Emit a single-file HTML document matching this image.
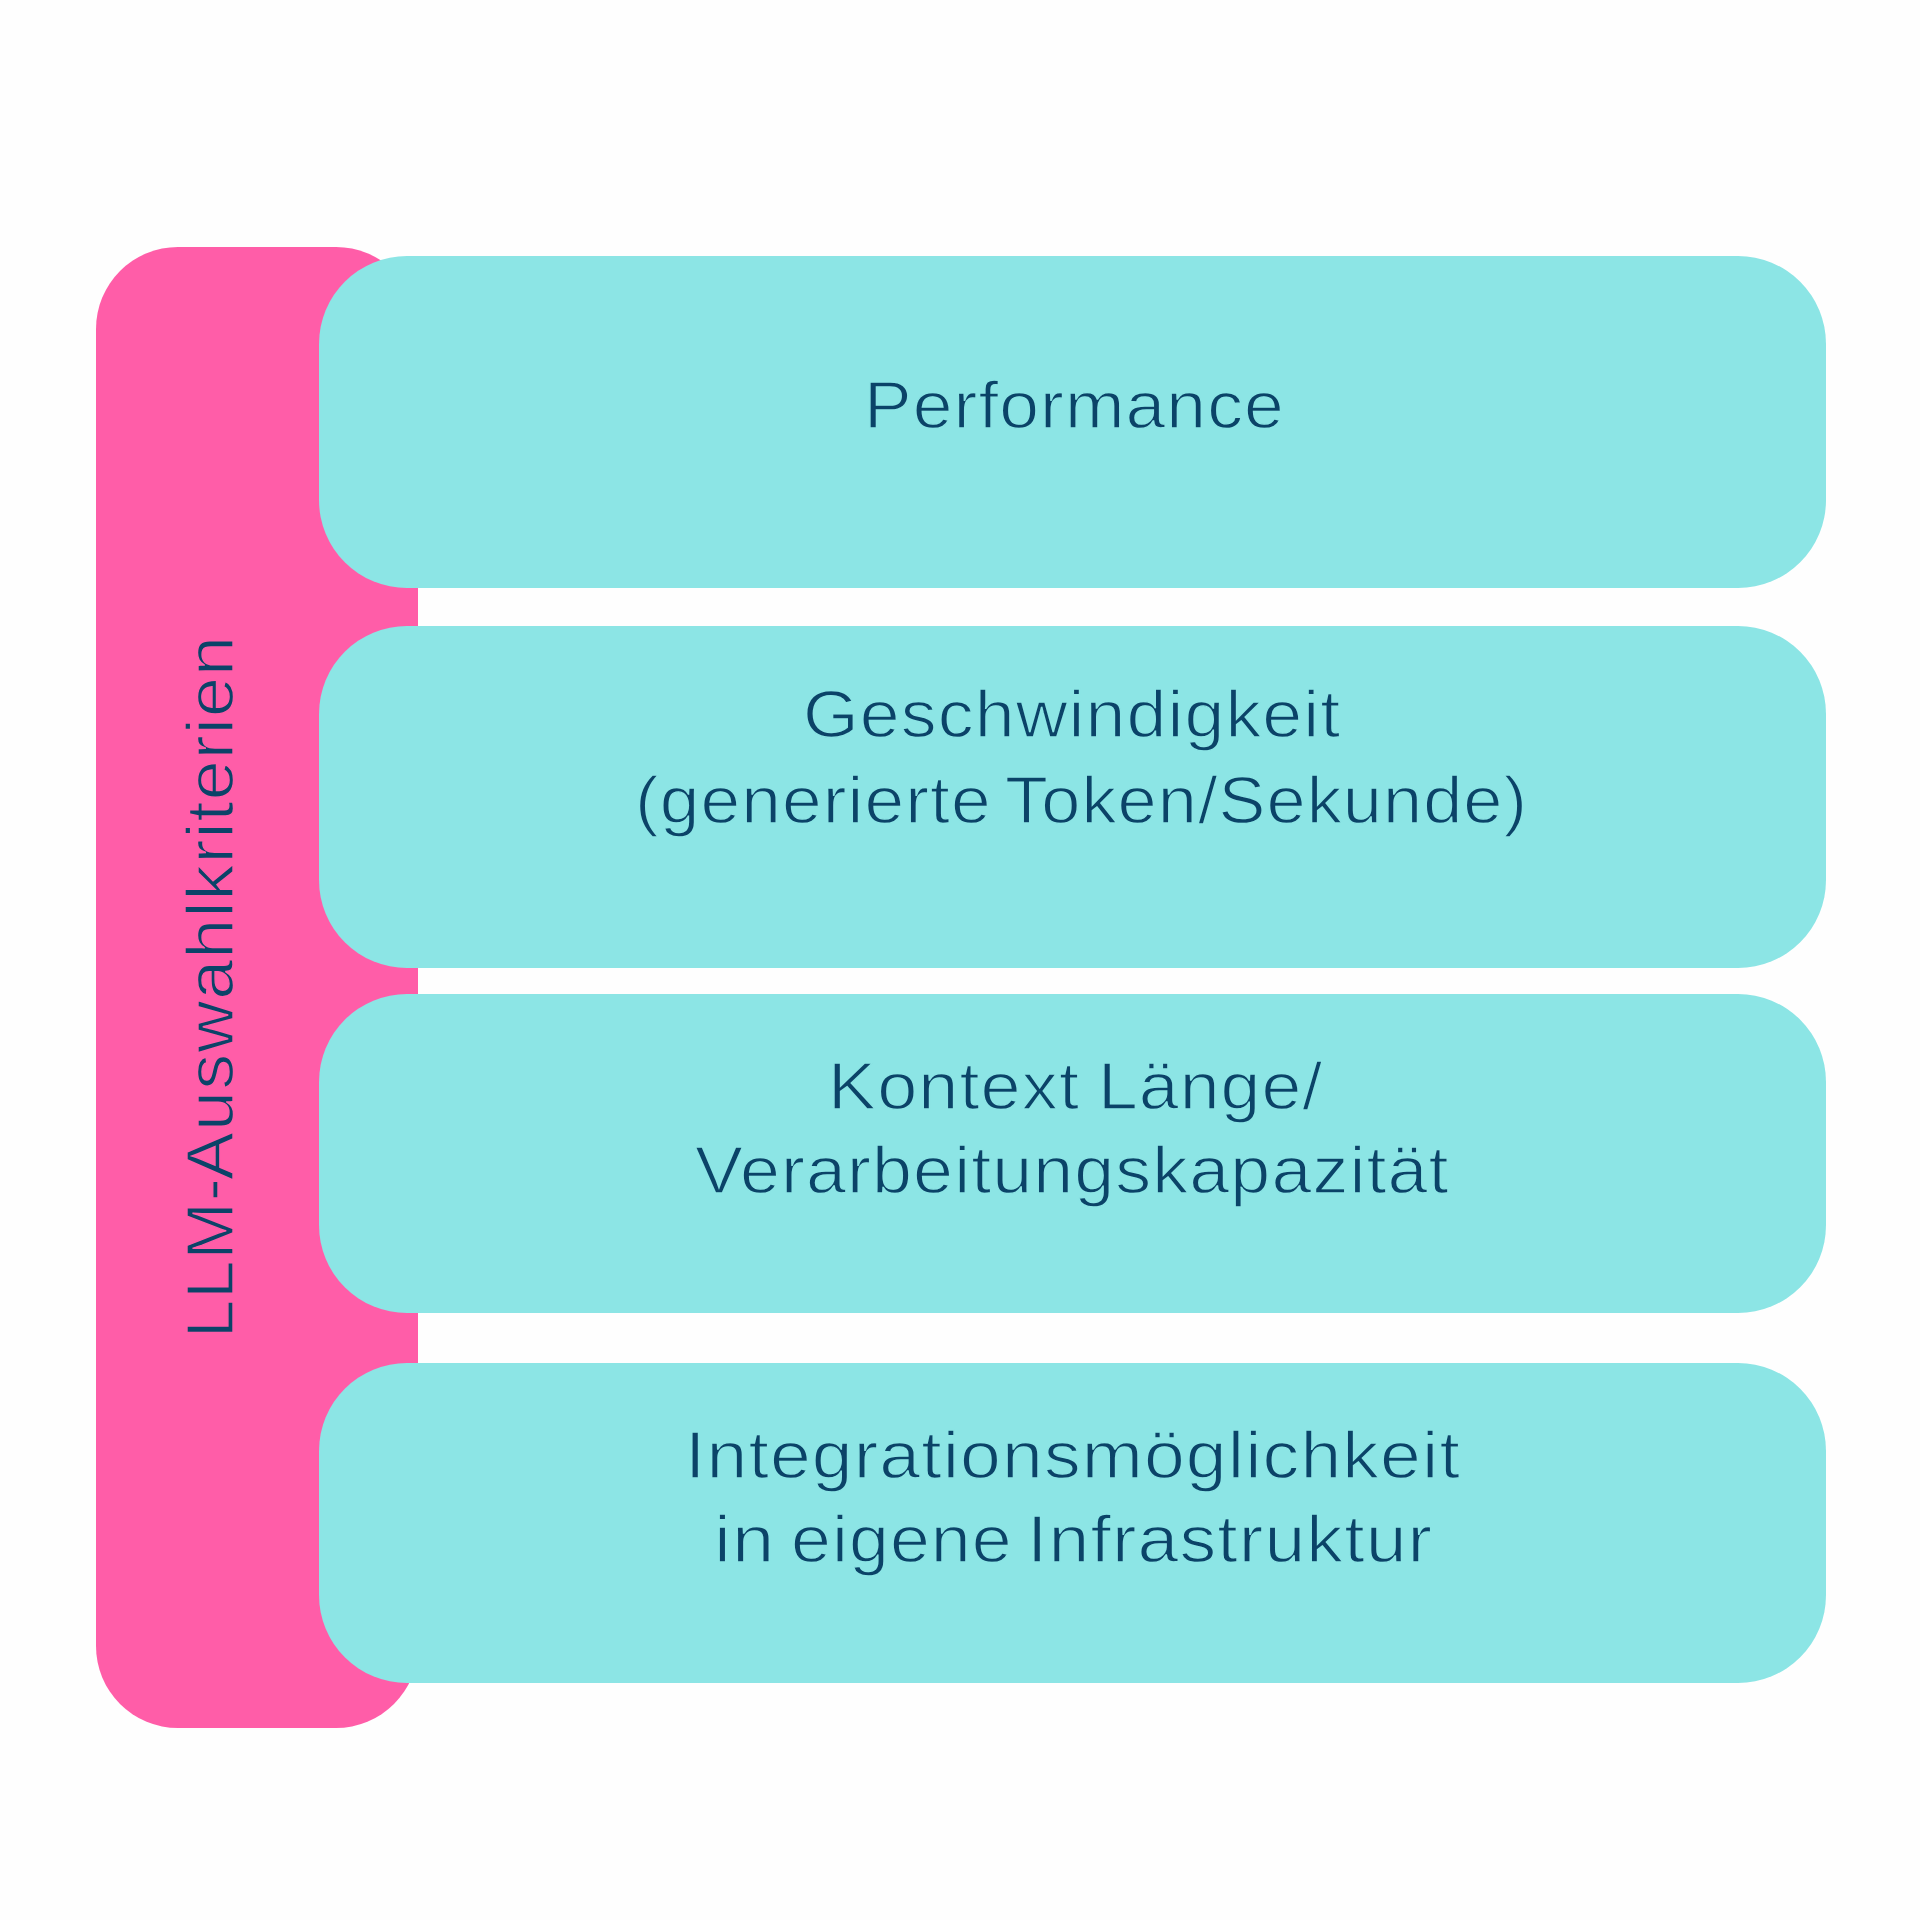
<!DOCTYPE html>
<html><head><meta charset="utf-8">
<style>
html,body{margin:0;padding:0;}
body{width:1920px;height:1920px;background:#fefefe;position:relative;overflow:hidden;font-family:"Liberation Sans",sans-serif;color:#0b4368;}
.pink{position:absolute;left:95.6px;top:246.5px;width:322px;height:1481.4px;background:#ff5da8;border-radius:82px;}
.box{position:absolute;left:319.06px;width:1507.44px;background:#8ce5e5;border-radius:88px;}
.t{position:absolute;font-size:65.9px;line-height:65.9px;white-space:nowrap;transform-origin:0 0;letter-spacing:1px;-webkit-text-stroke:1.4px #8ce5e5;}
.v{position:absolute;font-size:65.9px;line-height:65.9px;white-space:nowrap;transform-origin:0 0;letter-spacing:1px;-webkit-text-stroke:1.4px #ff5da8;}
</style></head><body>
<div class="pink"></div>
<div class="box" style="top:256.0px;height:332.3px;"></div>
<div class="box" style="top:625.5px;height:342.9px;"></div>
<div class="box" style="top:993.8px;height:319.5px;"></div>
<div class="box" style="top:1362.7px;height:320.2px;"></div>
<div class="t" style="left:863.85px;top:372.85px;transform:scaleX(1.0839);">Performance</div>
<div class="t" style="left:803.15px;top:681.85px;transform:scaleX(1.0881);">Geschwindigkeit</div>
<div class="t" style="left:634.95px;top:767.55px;transform:scaleX(1.0819);">(generierte</div>
<div class="t" style="left:1004.51px;top:767.55px;transform:scaleX(1.0669);">Token/Sekunde)</div>
<div class="t" style="left:828.39px;top:1053.55px;transform:scaleX(1.0936);">Kontext</div>
<div class="t" style="left:1097.64px;top:1053.55px;transform:scaleX(1.0857);">Länge/</div>
<div class="t" style="left:695.35px;top:1137.85px;transform:scaleX(1.0899);">Verarbeitungskapazität</div>
<div class="t" style="left:685.20px;top:1422.55px;transform:scaleX(1.1134);">Integrationsmöglichkeit</div>
<div class="t" style="left:713.66px;top:1507.35px;transform:scaleX(1.1545);">in</div>
<div class="t" style="left:790.51px;top:1507.35px;transform:scaleX(1.0875);">eigene</div>
<div class="t" style="left:1026.79px;top:1507.35px;transform:scaleX(1.1143);">Infrastruktur</div>
<div class="v" style="left:178.25px;top:1337.71px;transform:rotate(-90deg) scaleX(1.0435);">LLM-</div>
<div class="v" style="left:178.25px;top:1179.98px;transform:rotate(-90deg) scaleX(1.0914);">Auswahlkriterien</div>
</body></html>
